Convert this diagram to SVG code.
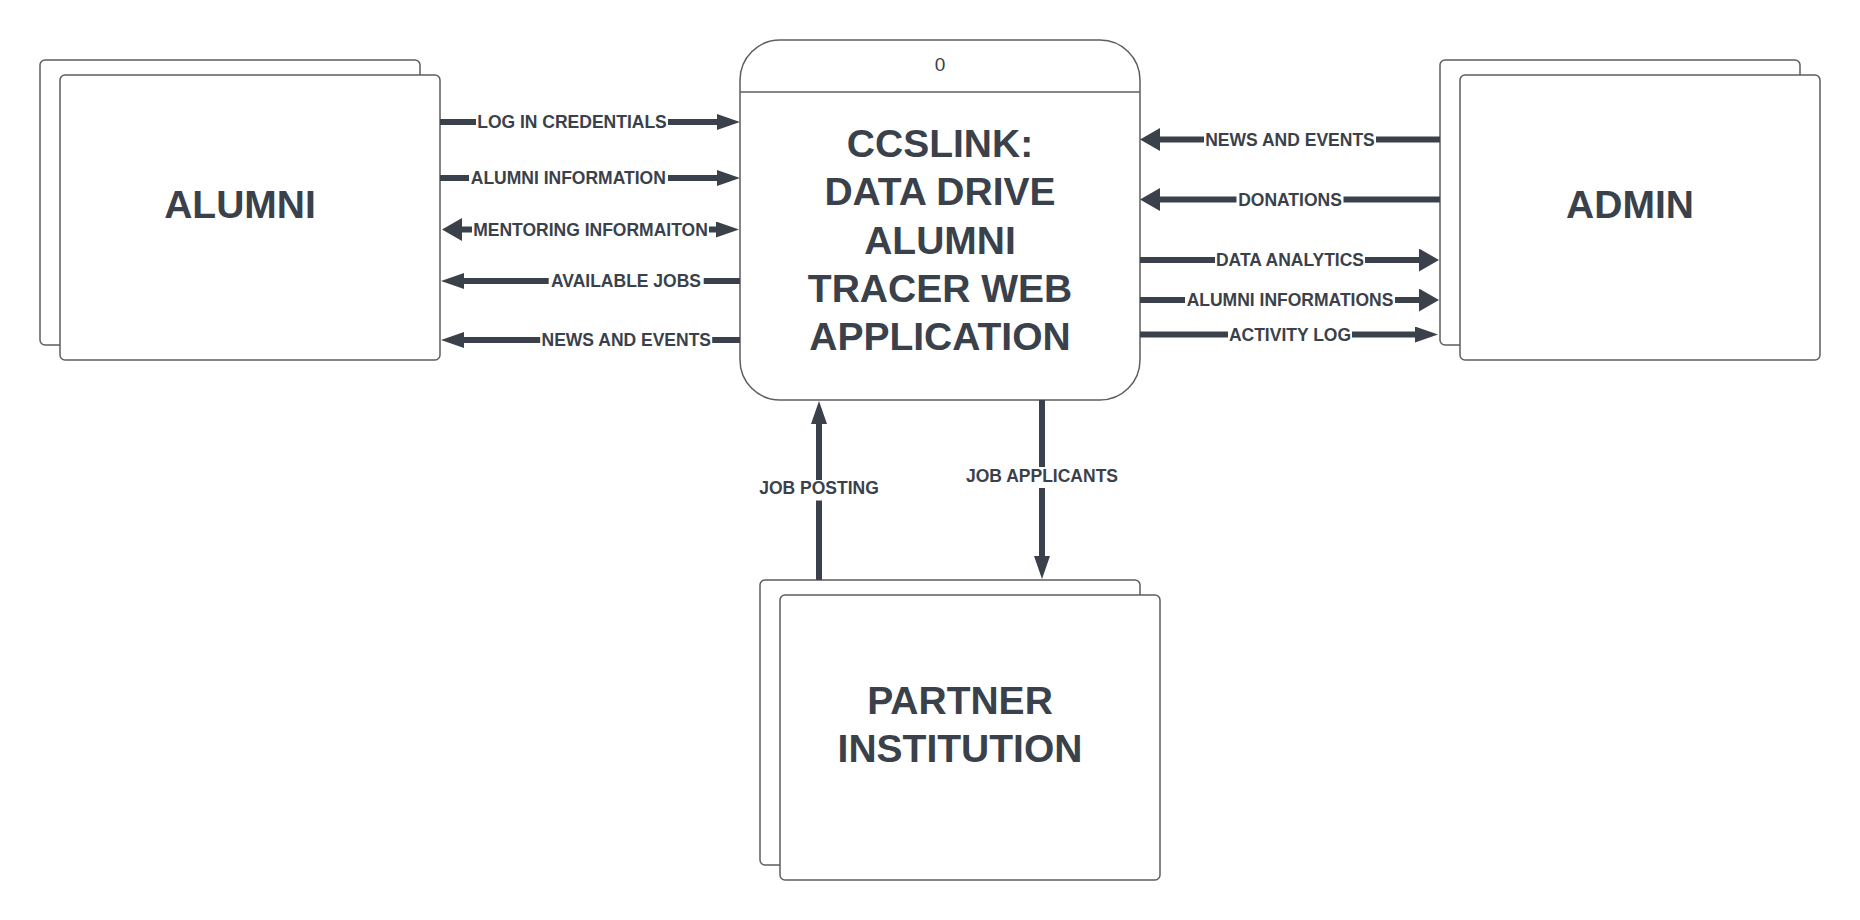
<svg xmlns="http://www.w3.org/2000/svg" width="1860" height="920" viewBox="0 0 1860 920">
  <style>
    .box { fill: #ffffff; stroke: #5e5e5e; stroke-width: 1.5; }
    .big { font-family: "Liberation Sans", Arial, sans-serif; font-weight: bold; font-size: 39px; fill: #3a414a; text-anchor: middle; }
    .num { font-family: "Liberation Sans", Arial, sans-serif; font-size: 19px; fill: #3a414a; text-anchor: middle; }
    .flow { fill: none; stroke: #3a414a; stroke-width: 6; }
    .lbl { font-family: "Liberation Sans", Arial, sans-serif; font-weight: bold; font-size: 17.5px; fill: #3a414a; text-anchor: middle; }
    .bg { fill: #ffffff; }
  </style>
  <defs>
    <marker id="hs" markerUnits="userSpaceOnUse" viewBox="0 0 23 16" refX="1" refY="8" markerWidth="23" markerHeight="16" orient="auto-start-reverse">
      <path d="M0,0 L23,8 L0,16 Z" fill="#3a414a"/>
    </marker>
    <marker id="hb" markerUnits="userSpaceOnUse" viewBox="0 0 20 23" refX="1" refY="11.5" markerWidth="20" markerHeight="23" orient="auto-start-reverse">
      <path d="M0,0 L20,11.5 L0,23 Z" fill="#3a414a"/>
    </marker>
  </defs>
  <rect width="1860" height="920" fill="#ffffff"/>

  <g id="alumni">
    <rect class="box" x="40" y="60" width="380" height="285" rx="5"/>
    <rect class="box" x="60" y="75" width="380" height="285" rx="5"/>
    <text class="big" x="240" y="218">ALUMNI</text>
  </g>

  <g id="admin">
    <rect class="box" x="1440" y="60" width="360" height="285" rx="5"/>
    <rect class="box" x="1460" y="75" width="360" height="285" rx="5"/>
    <text class="big" x="1630" y="218">ADMIN</text>
  </g>

  <g id="partner-institution">
    <rect class="box" x="760" y="580" width="380" height="285" rx="5"/>
    <rect class="box" x="780" y="595" width="380" height="285" rx="5"/>
    <text class="big" x="960" y="714">PARTNER</text>
    <text class="big" x="960" y="762">INSTITUTION</text>
  </g>

  <g id="process-0">
    <rect class="box" x="740" y="40" width="400" height="360" rx="40"/>
    <line x1="740" y1="92" x2="1140" y2="92" stroke="#5e5e5e" stroke-width="1.5"/>
    <text class="num" x="940" y="70.5">0</text>
    <text class="big" x="940" y="157">CCSLINK:</text>
    <text class="big" x="940" y="205">DATA DRIVE</text>
    <text class="big" x="940" y="253.5">ALUMNI</text>
    <text class="big" x="940" y="301.5">TRACER WEB</text>
    <text class="big" x="940" y="350">APPLICATION</text>
  </g>

  <g id="connectors">
    <path class="flow" d="M440,122 H718" marker-end="url(#hs)"/>
    <path class="flow" d="M440,178 H718" marker-end="url(#hs)"/>
    <path class="flow" d="M461,229.5 H717" marker-start="url(#hb)" marker-end="url(#hs)"/>
    <path class="flow" d="M740,281 H463" marker-end="url(#hs)"/>
    <path class="flow" d="M740,340 H463" marker-end="url(#hs)"/>
    <path class="flow" d="M1440,139.5 H1159" marker-end="url(#hb)"/>
    <path class="flow" d="M1440,199.5 H1159" marker-end="url(#hb)"/>
    <path class="flow" d="M1140,260 H1420" marker-end="url(#hb)"/>
    <path class="flow" d="M1140,300 H1420" marker-end="url(#hb)"/>
    <path class="flow" d="M1140,334.5 H1416" marker-end="url(#hs)"/>
    <path class="flow" d="M819,580 V423" marker-end="url(#hs)"/>
    <path class="flow" d="M1042,400 V557" marker-end="url(#hs)"/>

    <rect class="bg" x="476" y="114" width="192" height="19"/>
    <text class="lbl" x="572" y="128">LOG IN CREDENTIALS</text>
    <rect class="bg" x="469" y="170" width="199" height="19"/>
    <text class="lbl" x="568.3" y="184">ALUMNI INFORMATION</text>
    <rect class="bg" x="472" y="221.5" width="237" height="19"/>
    <text class="lbl" x="590.5" y="235.5">MENTORING INFORMAITON</text>
    <rect class="bg" x="548.7" y="273" width="155" height="19"/>
    <text class="lbl" x="626" y="287">AVAILABLE JOBS</text>
    <rect class="bg" x="540.2" y="332" width="172" height="19"/>
    <text class="lbl" x="626.3" y="346">NEWS AND EVENTS</text>

    <rect class="bg" x="1204" y="131.5" width="172" height="19"/>
    <text class="lbl" x="1290" y="145.5">NEWS AND EVENTS</text>
    <rect class="bg" x="1236.5" y="191.5" width="107" height="19"/>
    <text class="lbl" x="1290" y="205.5">DONATIONS</text>
    <rect class="bg" x="1215" y="252" width="150" height="19"/>
    <text class="lbl" x="1290" y="266">DATA ANALYTICS</text>
    <rect class="bg" x="1185" y="292" width="210" height="19"/>
    <text class="lbl" x="1290" y="306">ALUMNI INFORMATIONS</text>
    <rect class="bg" x="1228" y="326.5" width="124" height="19"/>
    <text class="lbl" x="1290" y="340.5">ACTIVITY LOG</text>

    <rect class="bg" x="758" y="480" width="122" height="20.5"/>
    <text class="lbl" x="819" y="494">JOB POSTING</text>
    <rect class="bg" x="964.5" y="467" width="155" height="21"/>
    <text class="lbl" x="1042" y="481.7">JOB APPLICANTS</text>
  </g>
</svg>
